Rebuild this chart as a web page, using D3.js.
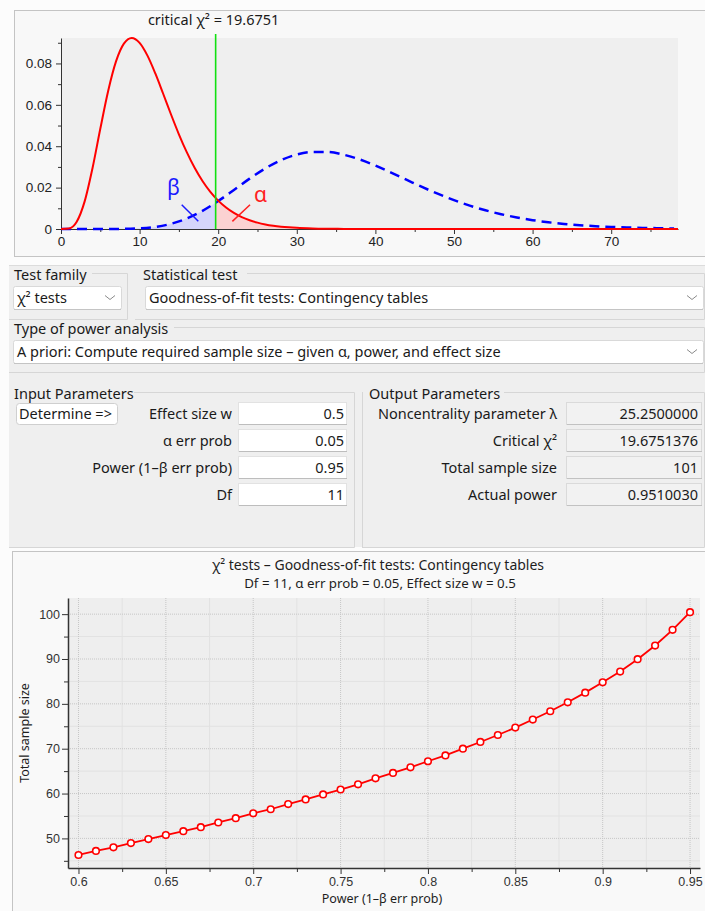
<!DOCTYPE html>
<html>
<head>
<meta charset="utf-8">
<script src="https://cdn.jsdelivr.net/npm/d3@7"></script>
<style>
  body { margin: 0; background: #fcfcfc; }
  svg { display: block; font-family: "Noto Sans", sans-serif; }
  .ui { font-size: 14.5px; fill: #1a1a1a; }
</style>
</head>
<body>
<div id="chart"></div>
<script>

// central chi2 (df = 11) density, read at these x positions
const centralX = [0,1,2,3,4,5,6,7,8,9,10,11,12,13,14,15,16,17,18,19,20,21,22,23,24,25,26,27,28,29,30,32,34,36,40,50,60,70,78.5];
const centralY = [0,0.00026,0.00351,0.01322,0.02925,0.04843,0.06672,0.08099,0.08958,0.09231,0.08995,0.08378,0.07517,0.06536,0.05534,0.04578,0.03713,0.02958,0.02320,0.01795,0.01371,0.01036,0.00775,0.00574,0.00422,0.00307,0.00222,0.00160,0.00114,0.00081,0.00057,0.00028,0.00014,0.00006,0.00001,0,0,0,0];

// noncentral chi2 (df = 11, lambda = 25.25) density
const noncentralX = [0,2,4,6,8,10,12,14,16,18,20,22,24,26,28,30,32,34,36,38,40,42,44,46,48,50,52,54,56,58,60,62,64,66,68,70,72,74,76,78];
const noncentralY = [0,0,0,0.000007,0.000065,0.00031,0.00102,0.00251,0.00507,0.0088,0.01351,0.01886,0.02434,0.02929,0.03328,0.03602,0.03726,0.03722,0.03587,0.03361,0.03066,0.02724,0.02373,0.0202,0.01694,0.01394,0.0113,0.00905,0.00714,0.00556,0.00427,0.00326,0.00246,0.00184,0.00136,0.001,0.00073,0.00053,0.00038,0.00027];

const criticalChi2 = 19.6751;
const topXTicks = [0,10,20,30,40,50,60,70];
const topYTicks = [0,0.02,0.04,0.06,0.08];

// power vs total sample size
const powerValues = [0.60,0.61,0.62,0.63,0.64,0.65,0.66,0.67,0.68,0.69,0.70,0.71,0.72,0.73,0.74,0.75,0.76,0.77,0.78,0.79,0.80,0.81,0.82,0.83,0.84,0.85,0.86,0.87,0.88,0.89,0.90,0.91,0.92,0.93,0.94,0.95];
const sampleSizes = [46.3,47.2,48.0,48.95,49.85,50.75,51.6,52.5,53.55,54.5,55.6,56.5,57.65,58.7,59.8,60.9,62.05,63.4,64.6,65.85,67.2,68.5,70.0,71.5,73.05,74.7,76.5,78.35,80.35,82.5,84.8,87.2,89.95,93.0,96.5,100.45];
const bottomXTicks = [0.6,0.65,0.7,0.75,0.8,0.85,0.9,0.95];
const bottomYTicks = [50,60,70,80,90,100];

// form texts
const inputLabels = ["Effect size w", "α err prob", "Power (1–β err prob)", "Df"];
const inputValues = ["0.5", "0.05", "0.95", "11"];
const outputLabels = ["Noncentrality parameter λ", "Critical χ²", "Total sample size", "Actual power"];
const outputValues = ["25.2500000", "19.6751376", "101", "0.9510030"];

let width = 705, height = 911;

let svg = d3.select("#chart").append("svg")
    .attr("width", width).attr("height", height);

// ---------- top panel: distributions ----------
svg.append("rect").attr("x", 14.5).attr("y", 10.5).attr("width", 700).attr("height", 246)
    .attr("fill", "#f8f8f8").attr("stroke", "#c4c4c4");

let x = d3.scaleLinear().domain([0, 78.5]).range([61, 678]);
let y = d3.scaleLinear().domain([0, 0.0923]).range([229, 38]);

svg.append("rect").attr("x", 61).attr("y", 38).attr("width", 617).attr("height", 191).attr("fill", "#efefef");

let central = centralX.map((d, i) => [d, centralY[i]]);
let noncentral = noncentralX.map((d, i) => [d, noncentralY[i]]);

let area = d3.area().x(d => x(d[0])).y0(y(0)).y1(d => y(d[1])).curve(d3.curveMonotoneX);
let line = d3.line().x(d => x(d[0])).y(d => y(d[1])).curve(d3.curveMonotoneX);

let defs = svg.append("defs");
defs.append("clipPath").attr("id", "leftOfCrit").append("rect")
    .attr("x", x(0)).attr("y", 30).attr("width", x(criticalChi2) - x(0)).attr("height", 200);
defs.append("clipPath").attr("id", "rightOfCrit").append("rect")
    .attr("x", x(criticalChi2)).attr("y", 30).attr("width", x(78.5) - x(criticalChi2)).attr("height", 200);

svg.append("path").datum(noncentral).attr("d", area)
    .attr("fill", "#ccccff").attr("fill-opacity", 0.75).attr("clip-path", "url(#leftOfCrit)");
svg.append("path").datum(central).attr("d", area)
    .attr("fill", "#ffc8c8").attr("fill-opacity", 0.75).attr("clip-path", "url(#rightOfCrit)");

// axes
let yAxisTop = d3.axisLeft(y).tickValues(topYTicks).tickSize(5).tickSizeOuter(0)
    .tickFormat(d => d === 0 ? "0" : d3.format(".2f")(d));
let gy = svg.append("g").attr("transform", `translate(${x(0)},0)`).call(yAxisTop);
svg.append("g").attr("transform", `translate(${x(0)},0)`)
    .call(d3.axisLeft(y).tickValues([0.01,0.03,0.05,0.07,0.09]).tickSize(3).tickFormat(""))
    .select(".domain").remove();
let xAxisTop = d3.axisBottom(x).tickValues(topXTicks).tickSize(5).tickSizeOuter(0);
let gx = svg.append("g").attr("transform", `translate(0,${y(0)})`).call(xAxisTop);
svg.append("g").attr("transform", `translate(0,${y(0)})`)
    .call(d3.axisBottom(x).tickValues([5,15,25,35,45,55,65,75]).tickSize(3).tickFormat(""))
    .select(".domain").remove();
svg.selectAll(".domain").attr("stroke", "#333");
gy.selectAll("text").attr("font-size", 13.5).attr("fill", "#222").attr("x", -9);
gx.selectAll("text").attr("font-size", 13.5).attr("fill", "#222").attr("y", 7);
svg.selectAll(".tick line").attr("stroke", "#333");

svg.append("path").datum(noncentral).attr("d", line)
    .attr("fill", "none").attr("stroke", "#0000ff").attr("stroke-width", 2.5).attr("stroke-dasharray", "10,6");
svg.append("path").datum(central).attr("d", line)
    .attr("fill", "none").attr("stroke", "#ff0000").attr("stroke-width", 2);

svg.append("line").attr("x1", x(criticalChi2)).attr("x2", x(criticalChi2)).attr("y1", 34).attr("y2", y(0))
    .attr("stroke", "#11e011").attr("stroke-width", 1.6);
svg.append("text").attr("class", "ui").attr("x", x(criticalChi2) - 2).attr("y", 25).attr("text-anchor", "middle")
    .text("critical χ² = " + criticalChi2);

// beta / alpha markers
svg.append("text").attr("x", x(14.3)).attr("y", y(0.0199)).attr("dy", "0.35em").attr("text-anchor", "middle")
    .attr("font-size", 21).attr("fill", "#1a1aff").text("β");
svg.append("line").attr("x1", x(15.36)).attr("y1", y(0.0117)).attr("x2", x(17.47)).attr("y2", y(0.0037))
    .attr("stroke", "#1a1aff").attr("stroke-width", 1.5);
svg.append("text").attr("x", x(25.4)).attr("y", y(0.0165)).attr("dy", "0.35em").attr("text-anchor", "middle")
    .attr("font-size", 21).attr("fill", "#ff2020").text("α");
svg.append("line").attr("x1", x(24.05)).attr("y1", y(0.0117)).attr("x2", x(21.8)).attr("y2", y(0.0037))
    .attr("stroke", "#ff2020").attr("stroke-width", 1.5);

// ---------- form area ----------
svg.append("rect").attr("x", 9).attr("y", 265).attr("width", 696).attr("height", 282).attr("fill", "#efefef");
svg.append("line").attr("x1", 9).attr("x2", 705).attr("y1", 265.5).attr("y2", 265.5).attr("stroke", "#dcdcdc");

function groupBox(x0, y0, x1, y1, label, labelX, labelEnd) {
    let g = svg.append("g").attr("fill", "none").attr("stroke", "#d6d6d6");
    g.append("path").attr("d", `M${labelEnd},${y0 + 0.5}H${x1 - 0.5}V${y1 + 0.5}H${x0}`);
    svg.append("text").attr("class", "ui").attr("x", labelX).attr("y", y0 + 7).text(label);
}
groupBox(9, 273, 128, 319, "Test family", 14, 92);
groupBox(135, 273, 705, 319, "Statistical test", 143, 247);
groupBox(9, 327, 705, 372, "Type of power analysis", 14, 174);
groupBox(9, 392, 355, 547, "Input Parameters", 14, 134);
groupBox(362, 392, 705, 547, "Output Parameters", 369, 504);
svg.append("line").attr("x1", 362.5).attr("x2", 362.5).attr("y1", 392).attr("y2", 547).attr("stroke", "#d6d6d6");

function dropdown(x0, y0, w, h, text) {
    svg.append("rect").attr("x", x0 + 0.5).attr("y", y0 + 0.5).attr("width", w).attr("height", h).attr("rx", 2)
        .attr("fill", "#ffffff").attr("stroke", "#d9d9d9");
    svg.append("line").attr("x1", x0 + 1).attr("x2", x0 + w).attr("y1", y0 + h + 0.5).attr("y2", y0 + h + 0.5).attr("stroke", "#c4c4c4");
    svg.append("text").attr("class", "ui").attr("x", x0 + 4).attr("y", y0 + h / 2 + 5.5).text(text);
    let cx = x0 + w - 11, cy = y0 + h / 2;
    svg.append("path").attr("d", `M${cx - 5},${cy - 2}L${cx},${cy + 2}L${cx + 5},${cy - 2}`)
        .attr("fill", "none").attr("stroke", "#8a8a8a").attr("stroke-width", 1);
}
dropdown(13, 286, 108, 23, "χ² tests");
dropdown(145, 286, 558, 23, "Goodness-of-fit tests: Contingency tables");
dropdown(13, 340, 690, 23, "A priori: Compute required sample size – given α, power, and effect size");

// determine button
svg.append("rect").attr("x", 16.5).attr("y", 403.5).attr("width", 101).attr("height", 21).attr("rx", 3)
    .attr("fill", "#ffffff").attr("stroke", "#cfcfcf");
svg.append("text").attr("class", "ui").attr("x", 19).attr("y", 419).text("Determine =>");

let rowTop = [402, 429, 456, 483];
rowTop.forEach((t, i) => {
    svg.append("text").attr("class", "ui").attr("x", 232).attr("y", t + 16.5).attr("text-anchor", "end").text(inputLabels[i]);
    svg.append("rect").attr("x", 238.5).attr("y", t + 0.5).attr("width", 108).attr("height", 22)
        .attr("fill", "#ffffff").attr("stroke", "#e2e2e2");
    svg.append("line").attr("x1", 239).attr("x2", 347).attr("y1", t + 22.5).attr("y2", t + 22.5).attr("stroke", "#bdbdbd");
    svg.append("text").attr("class", "ui").attr("x", 344).attr("y", t + 16.5).attr("text-anchor", "end").text(inputValues[i]);

    svg.append("text").attr("class", "ui").attr("x", 557).attr("y", t + 16.5).attr("text-anchor", "end").text(outputLabels[i]);
    svg.append("rect").attr("x", 566.5).attr("y", t + 0.5).attr("width", 135).attr("height", 22)
        .attr("fill", "#f2f2f2").attr("stroke", "#dadada");
    svg.append("line").attr("x1", 567).attr("x2", 702).attr("y1", t + 22.5).attr("y2", t + 22.5).attr("stroke", "#c2c2c2");
    svg.append("text").attr("class", "ui").attr("x", 698).attr("y", t + 16.5).attr("text-anchor", "end").text(outputValues[i]);
});

// ---------- bottom panel: power plot ----------
svg.append("rect").attr("x", 12.5).attr("y", 551.5).attr("width", 700).attr("height", 370)
    .attr("fill", "#f9f9f9").attr("stroke", "#c4c4c4");

let x2 = d3.scaleLinear().domain([0.594, 0.9557]).range([68, 700]);
let y2 = d3.scaleLinear().domain([43.4, 103.6]).range([868, 598]);

svg.append("rect").attr("x", 68).attr("y", 598).attr("width", 632).attr("height", 270).attr("fill", "#eeeeee");

let minorX = [0.625,0.675,0.725,0.775,0.825,0.875,0.925];
let minorY = [45,55,65,75,85,95];
let grid = svg.append("g");
grid.selectAll(".mx").data(minorX).join("line")
    .attr("x1", d => x2(d)).attr("x2", d => x2(d)).attr("y1", 598).attr("y2", 868)
    .attr("stroke", "#e2e2e2");
grid.selectAll(".my").data(minorY).join("line")
    .attr("x1", 68).attr("x2", 700).attr("y1", d => y2(d)).attr("y2", d => y2(d))
    .attr("stroke", "#e2e2e2");
grid.selectAll(".vx").data(bottomXTicks).join("line")
    .attr("x1", d => x2(d)).attr("x2", d => x2(d)).attr("y1", 598).attr("y2", 868)
    .attr("stroke", "#c6c6c6").attr("stroke-dasharray", "1,1");
grid.selectAll(".hy").data(bottomYTicks).join("line")
    .attr("x1", 68).attr("x2", 700).attr("y1", d => y2(d)).attr("y2", d => y2(d))
    .attr("stroke", "#c6c6c6").attr("stroke-dasharray", "1,1");

let bx = svg.append("g").attr("transform", "translate(0,868)")
    .call(d3.axisBottom(x2).tickValues(bottomXTicks).tickSize(6).tickSizeOuter(0).tickFormat(d3.format("")));
svg.append("g").attr("transform", "translate(0,868)")
    .call(d3.axisBottom(x2).tickValues(minorX).tickSize(4).tickFormat("")).select(".domain").remove();
let by = svg.append("g").attr("transform", "translate(68,0)")
    .call(d3.axisLeft(y2).tickValues(bottomYTicks).tickSize(6).tickSizeOuter(0));
svg.append("g").attr("transform", "translate(68,0)")
    .call(d3.axisLeft(y2).tickValues(minorY).tickSize(4).tickFormat("")).select(".domain").remove();
bx.select(".domain").attr("stroke", "#333").attr("stroke-width", 1.5);
by.select(".domain").attr("stroke", "#333").attr("stroke-width", 1.5);
svg.selectAll(".tick line").attr("stroke", "#333");
bx.selectAll("text").attr("font-size", 12.5).attr("fill", "#333").attr("y", 9);
by.selectAll("text").attr("font-size", 12.5).attr("fill", "#333").attr("x", -8);

let pts = powerValues.map((d, i) => [d, sampleSizes[i]]);
svg.append("path").datum(pts)
    .attr("d", d3.line().x(d => x2(d[0])).y(d => y2(d[1])))
    .attr("fill", "none").attr("stroke", "#ff0000").attr("stroke-width", 1.8);
svg.append("g").selectAll("circle").data(pts).join("circle")
    .attr("cx", d => x2(d[0])).attr("cy", d => y2(d[1])).attr("r", 3.3)
    .attr("fill", "#ffffff").attr("stroke", "#ff0000").attr("stroke-width", 1.6);

svg.append("text").attr("x", 378).attr("y", 570).attr("text-anchor", "middle").attr("font-size", 14).attr("fill", "#1e1e1e")
    .text("χ² tests – Goodness-of-fit tests: Contingency tables");
svg.append("text").attr("x", 380).attr("y", 588).attr("text-anchor", "middle").attr("font-size", 13.3).attr("fill", "#1e1e1e")
    .text("Df = 11, α err prob = 0.05, Effect size w = 0.5");
svg.append("text").attr("x", 382).attr("y", 903).attr("text-anchor", "middle").attr("font-size", 12.5).attr("fill", "#1e1e1e")
    .text("Power (1–β err prob)");
svg.append("text").attr("transform", "translate(29,733) rotate(-90)").attr("text-anchor", "middle")
    .attr("font-size", 12.5).attr("fill", "#1e1e1e").text("Total sample size");
</script>
</body>
</html>
